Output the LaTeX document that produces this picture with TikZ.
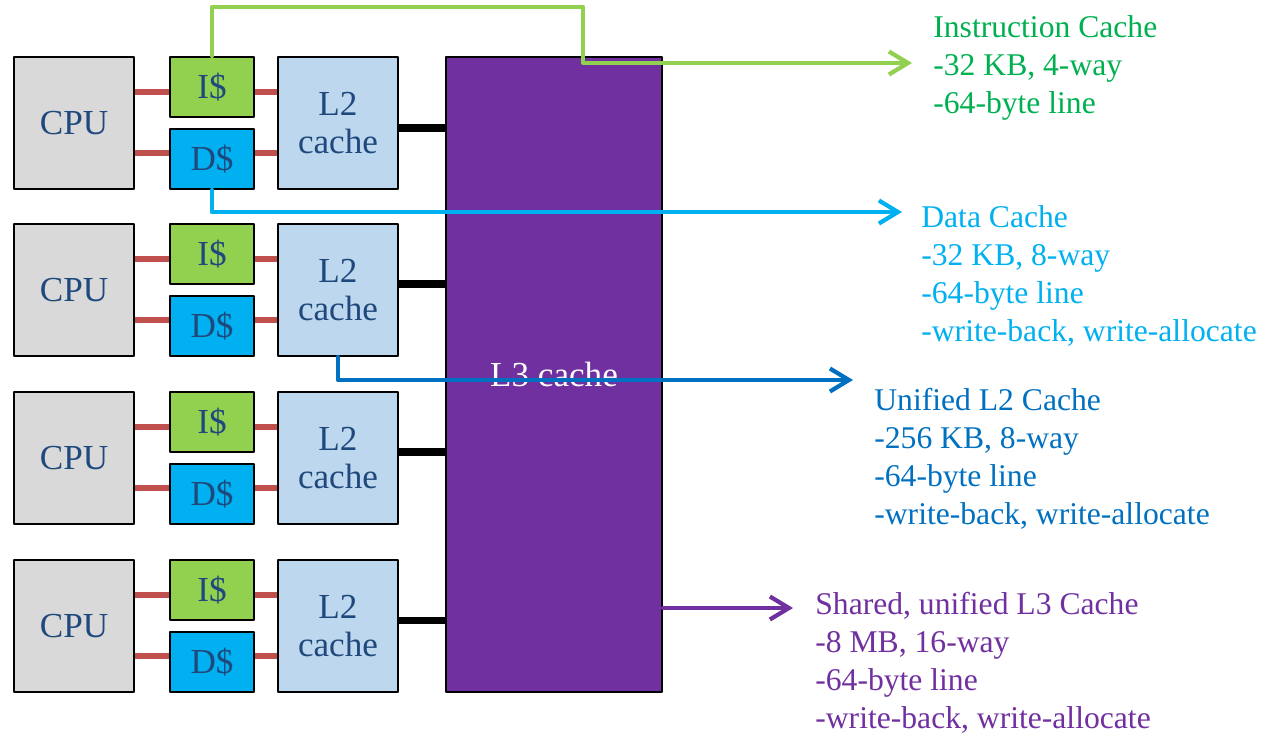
\documentclass[tikz,border=0pt]{standalone}
\usepackage{fontspec}
\setmainfont{Liberation Serif}
\usetikzlibrary{arrows.meta,calc}
\definecolor{BoxText}{HTML}{1F497D}
\definecolor{CpuGray}{HTML}{D9D9D9}
\definecolor{IcGreen}{HTML}{92D050}
\definecolor{DcCyan}{HTML}{00B0F0}
\definecolor{LtwoBlue}{HTML}{BDD7EE}
\definecolor{LthreePurple}{HTML}{7030A0}
\definecolor{LinkRed}{HTML}{C0504D}
\definecolor{NoteGreen}{HTML}{00B050}
\definecolor{NoteBlue}{HTML}{0070C0}

\begin{document}
\begin{tikzpicture}[x=0.02cm,y=-0.02cm,line cap=round,line join=round,
  unit/.style={draw=black,line width=1.1pt,text=BoxText,inner sep=0pt,align=center,
    font=\fontsize{20}{22}\selectfont},
  cpubox/.style={unit,fill=CpuGray,minimum width=2.4cm,minimum height=2.64cm},
  l1box/.style={unit,minimum width=1.68cm,minimum height=1.2cm},
  l2box/.style={unit,fill=LtwoBlue,minimum width=2.4cm,minimum height=2.64cm},
  redlink/.style={draw=LinkRed,line width=3.6pt,line cap=butt},
  buslink/.style={draw=black,line width=4pt,line cap=butt},
  callout/.style={line width=2.4pt,-{Straight Barb[length=3.8mm,width=4.6mm]}},
  note/.style={anchor=north west,inner sep=0pt,align=left,
    font=\fontsize{18}{21.6}\selectfont}]

  \useasboundingbox (0,0) rectangle (1268,735);

  % shared L3
  \node[draw=black,line width=1.1pt,fill=LthreePurple,text=white,
    minimum width=4.32cm,minimum height=12.7cm,
    font=\fontsize{20}{22}\selectfont] (lthree) at (554,374.5) {L3 cache};

  % one row per core
  \foreach \i/\t/\b in {1/57/71,2/224/60,3/392/60,4/560/60}{
    \node[cpubox] (cpu\i) at (74,\t+66) {CPU};
    \node[l1box,fill=IcGreen] (ic\i) at (212,\t+30) {I\$};
    \node[l1box,fill=DcCyan] (dc\i) at (212,\t+102) {D\$};
    \node[l2box] (ltwo\i) at (338,\t+66) {L2\\cache};
    \coordinate (ri\i) at (0,\t+35);
    \coordinate (rd\i) at (0,\t+96);
    \coordinate (rb\i) at (0,\t+\b);
    \draw[redlink] (cpu\i.east |- ri\i) -- (ic\i.west |- ri\i);
    \draw[redlink] (ic\i.east |- ri\i) -- (ltwo\i.west |- ri\i);
    \draw[redlink] (cpu\i.east |- rd\i) -- (dc\i.west |- rd\i);
    \draw[redlink] (dc\i.east |- rd\i) -- (ltwo\i.west |- rd\i);
    \draw[buslink] (ltwo\i.east |- rb\i) -- (lthree.west |- rb\i);
  }

  % callouts
  \coordinate (iturn) at (583,7);
  \coordinate (itip) at (912,63);
  \coordinate (dtip) at (902,212);
  \coordinate (utip) at (853,380);
  \coordinate (stip) at (793,608);
  \draw[callout,IcGreen] (ic1.north) |- (iturn) |- (itip);
  \draw[callout,DcCyan] (dc1.south) |- (dtip);
  \draw[callout,NoteBlue] (ltwo2.south) |- (utip);
  \draw[callout,LthreePurple] (lthree.east |- stip) -- (stip);

  \node[note,text=NoteGreen] (inote) at (933,15)
    {Instruction Cache\\-32 KB, 4-way\\-64-byte line};
  \node[note,text=DcCyan] (dnote) at (921,205)
    {Data Cache\\-32 KB, 8-way\\-64-byte line\\-write-back, write-allocate};
  \node[note,text=NoteBlue] (unote) at (874,388)
    {Unified L2 Cache\\-256 KB, 8-way\\-64-byte line\\-write-back, write-allocate};
  \node[note,text=LthreePurple] (snote) at (815,592)
    {Shared, unified L3 Cache\\-8 MB, 16-way\\-64-byte line\\-write-back, write-allocate};
\end{tikzpicture}
\end{document}
